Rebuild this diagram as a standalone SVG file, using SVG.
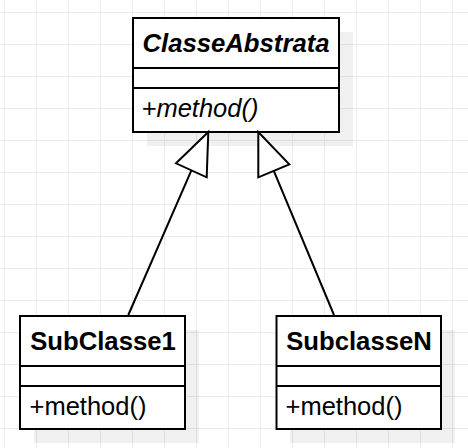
<svg xmlns="http://www.w3.org/2000/svg" width="468" height="448" viewBox="0 0 468 448">
  <defs>
    <pattern id="grid" patternUnits="userSpaceOnUse" x="4" y="12" width="32" height="32">
      <path d="M0.5 0 V32 M0 0.5 H32" stroke="#ebebeb" stroke-width="1" fill="none"/>
    </pattern>
  </defs>
  <style>
    .box { fill: #ffffff; stroke: #000000; stroke-width: 2; }
    .sep { stroke: #000000; stroke-width: 2; fill: none; }
    .shadow { fill: #000000; fill-opacity: 0.06; stroke: none; }
    .title { font-family: "Liberation Sans", Arial, sans-serif; font-size: 25.7px; font-weight: bold; text-anchor: middle; fill: #000; }
    .member { font-family: "Liberation Sans", Arial, sans-serif; font-size: 25.5px; fill: #000; }
    .it { font-style: italic; }
    .edge { stroke: #000000; stroke-width: 2; fill: none; }
    .head { fill: #ffffff; stroke: #000000; stroke-width: 2; stroke-linejoin: miter; }
  </style>
  <rect x="0" y="0" width="468" height="448" fill="#ffffff"/>
  <rect x="0" y="0" width="468" height="448" fill="url(#grid)"/>

  <g id="ClasseAbstrata">
    <rect class="shadow" x="147" y="32" width="206" height="114"/>
    <rect class="box" x="133" y="18" width="206" height="114"/>
    <line class="sep" x1="133" y1="68" x2="339" y2="68"/>
    <line class="sep" x1="133" y1="88" x2="339" y2="88"/>
    <text class="title it" x="236" y="52">ClasseAbstrata</text>
    <text class="member it" x="141.5" y="117">+method()</text>
  </g>

  <g id="SubClasse1">
    <rect class="shadow" x="34" y="330" width="165" height="113"/>
    <rect class="box" x="20" y="316" width="165" height="113"/>
    <line class="sep" x1="20" y1="366" x2="185" y2="366"/>
    <line class="sep" x1="20" y1="386" x2="185" y2="386"/>
    <text class="title" x="103" y="350">SubClasse1</text>
    <text class="member" x="29.5" y="415">+method()</text>
  </g>

  <g id="SubclasseN">
    <rect class="shadow" x="290" y="330" width="165" height="113"/>
    <rect class="box" x="276.5" y="316" width="164.5" height="113"/>
    <line class="sep" x1="276.5" y1="366" x2="441" y2="366"/>
    <line class="sep" x1="276.5" y1="386" x2="441" y2="386"/>
    <text class="title" x="359" y="350">SubclasseN</text>
    <text class="member" x="285.5" y="415">+method()</text>
  </g>

  <g id="connectors">
    <line class="edge" x1="128.3" y1="315" x2="191.4" y2="170.3"/>
    <polygon class="head" points="208.3,132 176,163.3 206.7,177.3"/>
    <line class="edge" x1="334" y1="315" x2="273.8" y2="170.8"/>
    <polygon class="head" points="258.3,132 258.3,177.3 289.3,164.3"/>
  </g>
</svg>
